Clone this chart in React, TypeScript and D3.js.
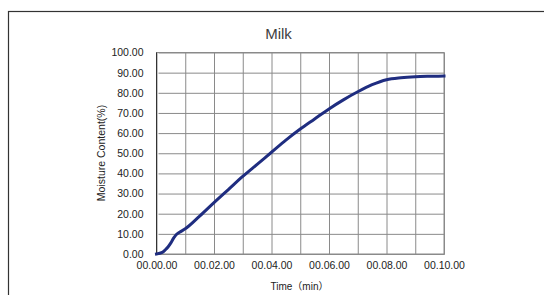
import React, { useEffect, useRef } from 'react';
import * as d3 from 'd3';

// drying curve: time (min) vs moisture content (%)
const timeMin = [0, 0.2, 0.3, 0.4, 0.5, 0.6, 0.7, 0.8, 1.0, 1.5, 2.0, 2.5, 3.0, 3.5, 4.0, 4.5, 5.0, 5.5, 6.0, 6.5, 7.0, 7.5, 8.0, 8.5, 9.0, 9.5, 10.0];
const moisture = [0, 0.8, 2, 3.5, 5.5, 8, 9.8, 10.8, 12.5, 18.8, 25.5, 32, 38.5, 44.5, 50.5, 56.5, 62, 67, 72, 76.5, 80.5, 84, 86.5, 87.5, 88, 88.2, 88.3];
const yTicks = [0, 10, 20, 30, 40, 50, 60, 70, 80, 90, 100];
const xTicks = [0, 1, 2, 3, 4, 5, 6, 7, 8, 9, 10];
const xLabelled = [0, 2, 4, 6, 8, 10];

const W = 544;
const H = 295;
const FONT = '"Liberation Sans", Arial, "Noto Sans CJK JP", sans-serif';

const App: React.FC = () => {
  const svgRef = useRef<SVGSVGElement | null>(null);

  useEffect(() => {
    if (!svgRef.current) return;
    const svg = d3.select(svgRef.current);
    svg.selectAll('*').remove();

    const margin = { top: 52.5, right: 100, bottom: 41, left: 156.5 };

    // outer chart frame (runs off the right and bottom of the picture)
    svg.append('rect')
      .attr('x', 8.5).attr('y', 11.5)
      .attr('width', 700).attr('height', 400)
      .attr('fill', 'white')
      .attr('stroke', '#333').attr('stroke-width', 1.2);

    const x = d3.scaleLinear().domain([0, 10]).range([margin.left, W - margin.right]);
    const y = d3.scaleLinear().domain([0, 100]).range([H - margin.bottom, margin.top]);

    const plotW = x(10) - x(0);
    const plotH = y(0) - y(100);

    // x grid + labels
    const xAxis = svg.append('g')
      .attr('transform', `translate(0,${y(0)})`)
      .call(d3.axisBottom(x).tickValues(xTicks).tickSize(-plotH).tickSizeOuter(0).tickPadding(8)
        .tickFormat(d => xLabelled.includes(+d) ? `00.${String(+d).padStart(2, '0')}.00` : ''));
    xAxis.select('.domain').attr('stroke', '#444');
    xAxis.selectAll('.tick line').attr('stroke', '#8a8a8a');
    xAxis.selectAll('text').attr('font-family', FONT).attr('font-size', 10.5).attr('fill', '#222');

    // y grid + labels
    const yAxis = svg.append('g')
      .attr('transform', `translate(${x(0)},0)`)
      .call(d3.axisLeft(y).tickValues(yTicks).tickSize(-plotW).tickSizeOuter(0).tickPadding(13)
        .tickFormat(d => (+d).toFixed(2)));
    yAxis.select('.domain').remove();
    yAxis.selectAll('.tick line').attr('stroke', '#8a8a8a').attr('x1', 2);
    yAxis.selectAll('text').attr('font-family', FONT).attr('font-size', 10.5).attr('fill', '#222');

    // plot border
    svg.append('rect')
      .attr('x', x(0)).attr('y', y(100))
      .attr('width', plotW).attr('height', plotH)
      .attr('fill', 'none').attr('stroke', '#8a8a8a');
    svg.append('line')
      .attr('x1', x(0)).attr('x2', x(0))
      .attr('y1', y(100)).attr('y2', y(0))
      .attr('stroke', '#333');

    // curve
    const pts = timeMin.map((t, i) => [t, moisture[i]] as [number, number]);
    svg.append('path')
      .datum(pts)
      .attr('fill', 'none')
      .attr('stroke', '#1f2d80')
      .attr('stroke-width', 3)
      .attr('stroke-linecap', 'square')
      .attr('d', d3.line<[number, number]>().x(d => x(d[0])).y(d => y(d[1])).curve(d3.curveMonotoneX));

    // title and axis titles
    svg.append('text')
      .attr('x', 278.5).attr('y', 38.5)
      .attr('text-anchor', 'middle')
      .attr('font-family', FONT).attr('font-size', 15)
      .attr('fill', '#404040')
      .text('Milk');

    svg.append('text')
      .attr('transform', `translate(105,153) rotate(-90)`)
      .attr('text-anchor', 'middle')
      .attr('font-family', FONT).attr('font-size', 10.5)
      .attr('fill', '#222')
      .text('Moisture Content(%)');

    svg.append('text')
      .attr('x', 299.5).attr('y', 290)
      .attr('text-anchor', 'middle')
      .attr('font-family', FONT).attr('font-size', 10)
      .attr('fill', '#222')
      .text('Time（min）');
  }, []);

  return (
    <svg
      ref={svgRef}
      width={W}
      height={H}
      style={{ position: 'absolute', left: 0, top: 0, display: 'block', background: 'white' }}
    />
  );
};

export default App;
